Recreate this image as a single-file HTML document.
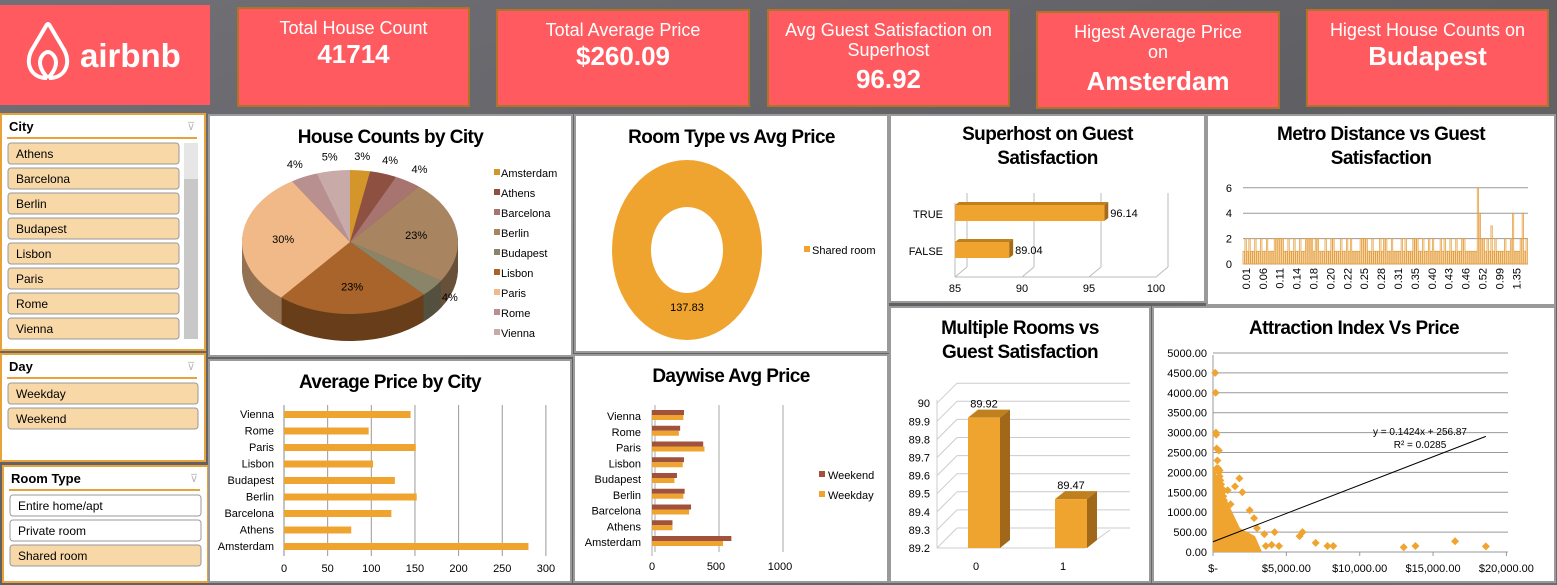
<!DOCTYPE html>
<html><head><meta charset="utf-8"><style>
html,body{margin:0;padding:0;width:1557px;height:585px;overflow:hidden;background:#6d6d72;font-family:"Liberation Sans",sans-serif}
svg text{font-family:"Liberation Sans",sans-serif}
</style></head><body>
<svg id="s" width="1557" height="585" xmlns="http://www.w3.org/2000/svg">
<defs><linearGradient id="bg" x1="0" y1="0" x2="1" y2="1"><stop offset="0" stop-color="#707076"/><stop offset="0.5" stop-color="#5f5f64"/><stop offset="1" stop-color="#6c6c70"/></linearGradient></defs>
<rect width="1557" height="585" fill="url(#bg)"/>
<g>
<rect x="0" y="5" width="210" height="100" fill="#ff5a5f"/>
<path d="M47 78 C30 78 24 62 33 48 L46 26 Q48 22 50 26 L63 48 C72 62 66 78 49 78 M48 78 C40 70 38 62 42 56 Q48 48 54 56 C58 62 56 70 48 78" fill="none" stroke="#fff" stroke-width="4"/>
<text x="80" y="67" font-size="33" fill="#fff" font-weight="bold">airbnb</text>
</g>
<g id="kpis"></g>
<g id="panels"></g>
</svg>
<script>
const NS='http://www.w3.org/2000/svg';
const S=document.getElementById('s');
function el(tag,attrs,parent,txt){const e=document.createElementNS(NS,tag);for(const k in attrs)e.setAttribute(k,attrs[k]);if(txt!==undefined)e.textContent=txt;(parent||S).appendChild(e);return e;}
function grp(name,parent){const g=el('g',{},parent);return g;}

// KPI cards
const kpiTitles=[["Total House Count"],["Total Average Price"],["Avg Guest Satisfaction on","Superhost"],["Higest Average Price","on"],["Higest House Counts on"]];
const kpiValues=["41714","$260.09","96.92","Amsterdam","Budapest"];
const kpiBoxes=[[238,8,231,98],[497,10,252,96],[768,10,241,96],[1037,12,242,96],[1307,10,241,96]];
kpiTitles.forEach((t,i)=>{const b=kpiBoxes[i];const g=grp('kpi-card-'+(i+1));
 el('rect',{x:b[0],y:b[1],width:b[2],height:b[3],fill:'#ff5a5f',stroke:'#b07428','stroke-width':2},g);
 const cx=b[0]+b[2]/2;let y=b[1]+26;
 t.forEach(line=>{el('text',{x:cx,y:y,'text-anchor':'middle','font-size':18,fill:'#fff'},g,line);y+=20;});
 el('text',{x:cx,y:t.length>1?b[1]+78:b[1]+55,'text-anchor':'middle','font-size':26,fill:'#fff','font-weight':'bold'},g,kpiValues[i]);
});
function panel(name,x,y,w,h,title,ty){const g=grp(name);
 el('rect',{x:x,y:y,width:w,height:h,fill:'#fff',stroke:'#9a9a9a','stroke-width':2},g);
 if(title){let yy=ty||y+28;title.forEach(l=>{const t=el('text',{x:x+w/2,y:yy,'text-anchor':'middle','font-size':19,fill:'#000','font-weight':'bold','letter-spacing':'-0.6'},g,l);yy+=24;});}
 return g;}

// Slicers
function slicer(name,x,y,w,h,title,items,sel,scroll){const g=grp(name);
 el('rect',{x:x,y:y,width:w,height:h,fill:'#fff',stroke:'#e8a23a','stroke-width':2},g);
 el('text',{x:x+8,y:y+17,'font-size':13,'font-weight':'bold'},g,title);
 el('text',{x:x+w-18,y:y+16,'font-size':11,fill:'#bbb'},g,'⊽');
 el('line',{x1:x+6,y1:y+24,x2:x+w-8,y2:y+24,stroke:'#e8a23a','stroke-width':2},g);
 items.forEach((it,i)=>{const by=y+29+i*25;const r=el('rect',{x:x+7,y:by,width:scroll?171:w-14,height:21,rx:3,fill:sel[i]?'#f9d8a8':'#fff',stroke:'#999'},g);
  
  el('text',{x:x+15,y:by+15,'font-size':12},g,it);});
 if(scroll){el('rect',{x:x+183,y:y+29,width:14,height:196,fill:'#e6e6e6'},g);el('rect',{x:x+183,y:y+65,width:14,height:160,fill:'#c8c8c8'},g);}
}
slicer('city-slicer',1,114,204,236,'City',['Athens','Barcelona','Berlin','Budapest','Lisbon','Paris','Rome','Vienna'],[1,1,1,1,1,1,1,1],true);
slicer('day-slicer',1,354,204,107,'Day',['Weekday','Weekend'],[1,1],false);
slicer('room-type-slicer',3,466,205,116,'Room Type',['Entire home/apt','Private room','Shared room'],[0,0,1],false);

// Pie
const pieCities=['Amsterdam','Athens','Barcelona','Berlin','Budapest','Lisbon','Paris','Rome','Vienna'];
const pieValues=[3,4,4,23,4,23,30,4,5];
const pieColors=['#d4952a','#8e5040','#a87470','#a88460','#8a8468','#a8642a','#f0b987','#b89090','#c8aaa8'];
(function(){const g=panel('pie-chart-panel',209,115,363,241,['House Counts by City']);
 const cx=350,cy=242,rx=108,ry=72,D=27;const tot=pieValues.reduce((a,b)=>a+b,0);
 const pt=(a,dy)=>[cx+rx*Math.sin(a),cy-ry*Math.cos(a)+dy];
 const arc=(a0,a1,dy,fill)=>{const p0=pt(a0,dy),p1=pt(a1,dy);return el('path',{d:`M${cx},${cy+dy}L${p0[0]},${p0[1]}A${rx},${ry} 0 ${a1-a0>Math.PI?1:0} 1 ${p1[0]},${p1[1]}Z`,fill:fill},g);};
 const shade=(c,f)=>{const n=parseInt(c.slice(1),16);return `rgb(${((n>>16)&255)*f|0},${((n>>8)&255)*f|0},${(n&255)*f|0})`;};
 for(let d=D;d>0;d-=1){let a=0;pieValues.forEach((v,i)=>{const a1=a+v/tot*2*Math.PI;arc(a,a1,d,shade(pieColors[i],0.62));a=a1;});}
 let a=0;pieValues.forEach((v,i)=>{const a1=a+v/tot*2*Math.PI;const p=arc(a,a1,0,pieColors[i]);
  const m=(a+a1)/2;const out=v>10?0.62:1.2;el('text',{x:cx+rx*out*Math.sin(m),y:cy-ry*out*Math.cos(m)+4,'text-anchor':'middle','font-size':11},g,v+'%');a=a1;});
 pieCities.forEach((c,i)=>{el('rect',{x:494,y:169+i*20,width:6,height:6,fill:pieColors[i]},g);el('text',{x:501,y:177+i*20,'font-size':11},g,c);});
})();

// Donut
const roomTypes=['Shared room'];const roomPrices=[137.83];
(function(){const g=panel('room-type-donut-panel',575,115,313,237,['Room Type vs Avg Price']);
 const cx=687,cy=250;const d=el('path',{d:`M${cx-75},${cy}a75,90 0 1,0 150,0a75,90 0 1,0 -150,0M${cx-36},${cy}a36,43 0 1,1 72,0a36,43 0 1,1 -72,0`,fill:'#f0a430','fill-rule':'evenodd'},g);
 
 el('text',{x:cx,y:311,'text-anchor':'middle','font-size':11},g,roomPrices[0].toFixed(2));
 el('rect',{x:804,y:246,width:6,height:6,fill:'#f0a430'},g);el('text',{x:812,y:254,'font-size':11},g,roomTypes[0]);
})();

// Superhost
const shCats=['TRUE','FALSE'];const shVals=[96.14,89.04];const shTicks=[85,90,95,100];
(function(){const g=panel('superhost-panel',890,115,315,187,['Superhost on Guest','Satisfaction'],140);
 const X=v=>955+(v-85)*13.4;
 shTicks.forEach(t=>{el('line',{x1:X(t)+12,y1:193,x2:X(t)+12,y2:267,stroke:'#bbb'},g);el('line',{x1:X(t),y1:277,x2:X(t)+12,y2:267,stroke:'#bbb'},g);el('text',{x:X(t),y:292,'text-anchor':'middle','font-size':11},g,t);});
 el('line',{x1:955,y1:277,x2:X(100),y2:277,stroke:'#bbb'},g);el('line',{x1:955,y1:203,x2:955,y2:277,stroke:'#bbb'},g);
 shVals.forEach((v,i)=>{const y=205+i*37;el('polygon',{points:`${955},${y} ${X(v)},${y} ${X(v)+4},${y-3} ${959},${y-3}`,fill:'#c0801e'},g);
  el('polygon',{points:`${X(v)},${y} ${X(v)+4},${y-3} ${X(v)+4},${y+13} ${X(v)},${y+16}`,fill:'#a86a16'},g);
  const r=el('rect',{x:955,y:y,width:X(v)-955,height:16,fill:'#f0a430'},g);
  el('text',{x:X(v)+6,y:y+12,'font-size':11},g,v.toFixed(2));el('text',{x:943,y:y+13,'text-anchor':'end','font-size':11},g,shCats[i]);});
})();

// Metro
const metroVals=[1,2,1,2,1,1,2,1,1,2,1,1,2,1,1,1,2,2,2,2,2,1,1,2,1,1,2,1,1,2,1,1,2,2,2,2,1,2,2,1,1,1,2,1,1,2,2,1,1,1,2,1,1,2,1,2,1,1,1,1,2,2,2,2,1,1,2,1,1,1,2,1,2,2,1,1,2,1,1,1,1,2,1,2,1,1,1,2,2,2,1,1,2,1,1,2,1,2,1,1,1,2,1,2,1,1,2,1,1,2,1,1,2,2,1,1,1,1,1,1,6,4,2,2,1,2,1,3,1,2,1,1,1,1,2,1,1,2,4,1,1,1,2,4,1,2];
const metroTicks=['0.01','0.06','0.11','0.14','0.18','0.20','0.22','0.25','0.28','0.31','0.35','0.40','0.43','0.46','0.52','0.99','1.35'];
const metroY=[0,2,4,6];
(function(){const g=panel('metro-distance-panel',1207,115,348,190,['Metro Distance vs Guest','Satisfaction'],140);
 const x0=1243,x1=1528,Y=v=>264-v*12.7;
 metroY.forEach(t=>{el('line',{x1:x0,y1:Y(t),x2:x1,y2:Y(t),stroke:'#999'},g);el('text',{x:1232,y:Y(t)+4,'text-anchor':'end','font-size':11},g,t);});
 const bw=(x1-x0)/metroVals.length;
 metroVals.forEach((v,i)=>{const r=el('rect',{x:x0+i*bw,y:Y(v),width:Math.max(bw-0.6,0.8),height:264-Y(v),fill:'none',stroke:'#e6a040','stroke-width':0.8},g);});
 metroTicks.forEach((t,i)=>{const x=1247+i*16.9;el('text',{x:x,y:268,'font-size':11,transform:`rotate(-90 ${x} 268)`,'text-anchor':'end','dominant-baseline':'middle'},g,t);});
})();

// Avg price by city
const apCities=['Amsterdam','Athens','Barcelona','Berlin','Budapest','Lisbon','Paris','Rome','Vienna'];
const apVals=[280,77,123,152,127,102,151,97,145];
const apTicks=[0,50,100,150,200,250,300];
(function(){const g=panel('avg-price-panel',209,360,362,222,['Average Price by City'],388);
 const X=v=>284+v*0.873;
 apTicks.forEach(t=>{el('line',{x1:X(t),y1:405,x2:X(t),y2:556,stroke:t?'#999':'#888'},g);el('text',{x:X(t),y:572,'text-anchor':'middle','font-size':11},g,t);});
 apVals.forEach((v,i)=>{const y=546-i*16.5;const r=el('rect',{x:284,y:y-3,width:X(v)-284,height:7,fill:'#f0a430'},g);
  el('text',{x:274,y:y+4,'text-anchor':'end','font-size':11},g,apCities[i]);});
})();

// Daywise
const dwCities=['Amsterdam','Athens','Barcelona','Berlin','Budapest','Lisbon','Paris','Rome','Vienna'];
const dwWeekday=[555,160,290,245,175,240,410,210,245];
const dwWeekend=[620,160,305,255,195,250,400,220,250];
const dwTicks=[0,500,1000];
(function(){const g=panel('daywise-panel',574,355,314,227,['Daywise Avg Price'],382);
 const X=v=>652+v*0.128;
 dwTicks.forEach(t=>{el('line',{x1:X(t)+3,y1:405,x2:X(t)+3,y2:552,stroke:'#aaa'},g);el('text',{x:X(t),y:570,'text-anchor':'middle','font-size':11},g,t);});
 el('line',{x1:652,y1:410,x2:652,y2:556,stroke:'#aaa'},g);
 dwCities.forEach((c,i)=>{const y=543-i*15.75;
  let r=el('rect',{x:652,y:y-7,width:X(dwWeekend[i])-652,height:5,fill:'#a0523c'},g);
  r=el('rect',{x:652,y:y-2,width:X(dwWeekday[i])-652,height:5,fill:'#f0a430'},g);
  el('text',{x:641,y:y+3,'text-anchor':'end','font-size':11},g,c);});
 el('rect',{x:819,y:471,width:6,height:6,fill:'#a0523c'},g);el('text',{x:828,y:479,'font-size':11},g,'Weekend');
 el('rect',{x:819,y:491,width:6,height:6,fill:'#f0a430'},g);el('text',{x:828,y:499,'font-size':11},g,'Weekday');
})();

// Multiple rooms
const mrCats=['0','1'];const mrVals=[89.92,89.47];const mrTicks=[89.2,89.3,89.4,89.5,89.6,89.7,89.8,89.9,90];
(function(){const g=panel('multiple-rooms-panel',890,307,260,275,['Multiple Rooms vs','Guest Satisfaction'],334);
 const Y=v=>548-(v-89.2)*181;
 mrTicks.forEach(t=>{el('line',{x1:937,y1:Y(t),x2:957,y2:Y(t)-20,stroke:'#ccc'},g);el('line',{x1:957,y1:Y(t)-20,x2:1130,y2:Y(t)-20,stroke:'#ccc'},g);el('text',{x:930,y:Y(t)+4,'text-anchor':'end','font-size':11},g,String(t));});
 el('line',{x1:937,y1:548,x2:1085,y2:548,stroke:'#ccc'},g);el('line',{x1:1085,y1:548,x2:1110,y2:530,stroke:'#ccc'},g);el('line',{x1:937,y1:400,x2:937,y2:548,stroke:'#ccc'},g);
 mrVals.forEach((v,i)=>{const x=968+i*87,w=32;const y=Y(v);
  el('polygon',{points:`${x},${y} ${x+w},${y} ${x+w+10},${y-8} ${x+10},${y-8}`,fill:'#c0801e'},g);
  el('polygon',{points:`${x+w},${y} ${x+w+10},${y-8} ${x+w+10},${540} ${x+w},${548}`,fill:'#a06818'},g);
  const r=el('rect',{x:x,y:y,width:w,height:548-y,fill:'#f0a430'},g);
  el('text',{x:x+16,y:y-10,'text-anchor':'middle','font-size':11},g,v.toFixed(2));
  el('text',{x:x+8,y:570,'text-anchor':'middle','font-size':11},g,mrCats[i]);});
})();

// Scatter
const scPrice=[150,180,200,220,250,300,350,400,450,500,550,600,650,700,750,800,900,1000,1100,1200,1300,1400,1500,1600,1800,2000,2200,2400,200,300,350,400,500,600,700,800,900,1000,1200,1500,2000,2500,2800,3000,3500,3600,4000,4200,4500,5900,6100,7000,7800,8200,13000,13800,16500,18600,250,300,350,450,500,600,800,1000,1200,1500,300,400];
const scAttr=[4500,4000,3000,2950,2600,2300,2100,2000,1900,1800,1700,1600,1500,1400,1300,1200,1100,1000,900,800,700,650,600,500,1850,450,400,300,100,200,300,400,500,600,700,800,900,1000,1200,1650,1500,1050,850,600,450,150,180,500,150,400,500,230,150,150,120,150,270,140,2100,1500,1400,2050,1300,1100,950,1550,800,600,700,2550];
const scYTicks=[0,500,1000,1500,2000,2500,3000,3500,4000,4500,5000];
const scXTicks=[0,5000,10000,15000,20000];
const scXLabels=['$-','$5,000.00','$10,000.00','$15,000.00','$20,000.00'];
const trendSlope=0.1424,trendInt=256.87;
(function(){const g=panel('attraction-scatter-panel',1153,307,402,275,['Attraction Index Vs Price'],334);
 const X=v=>1213+v*0.01467,Y=v=>552-v*0.0398;
 scYTicks.forEach(t=>{el('line',{x1:1213,y1:Y(t),x2:1508,y2:Y(t),stroke:'#999'},g);el('text',{x:1207,y:Y(t)+4,'text-anchor':'end','font-size':11},g,t.toFixed(2));});
 scXTicks.forEach((t,i)=>{el('text',{x:X(t),y:572,'text-anchor':'middle','font-size':11},g,scXLabels[i]);el('line',{x1:X(t),y1:552,x2:X(t),y2:556,stroke:'#999'},g);});
 el('line',{x1:1213,y1:355,x2:1213,y2:552,stroke:'#999'},g);
 const blob=el('path',{d:`M1213,552 L1213,${Y(2200)} Q1222,${Y(1500)} 1240,${Y(600)} L1255,${Y(400)} L1262,552Z`,fill:'#f0a430'},g);
 scPrice.forEach((p,i)=>{const x=X(p),y=Y(scAttr[i]);const m=el('polygon',{points:`${x},${y-4} ${x+4},${y} ${x},${y+4} ${x-4},${y}`,fill:'#f0a430'},g);});
 el('line',{x1:X(0),y1:Y(trendInt),x2:X(18600),y2:Y(trendInt+trendSlope*18600),stroke:'#000','stroke-width':1},g);
 el('text',{x:1420,y:435,'text-anchor':'middle','font-size':10},g,'y = 0.1424x + 256.87');
 el('text',{x:1420,y:448,'text-anchor':'middle','font-size':10},g,'R² = 0.0285');
})();
</script>
</body></html>
